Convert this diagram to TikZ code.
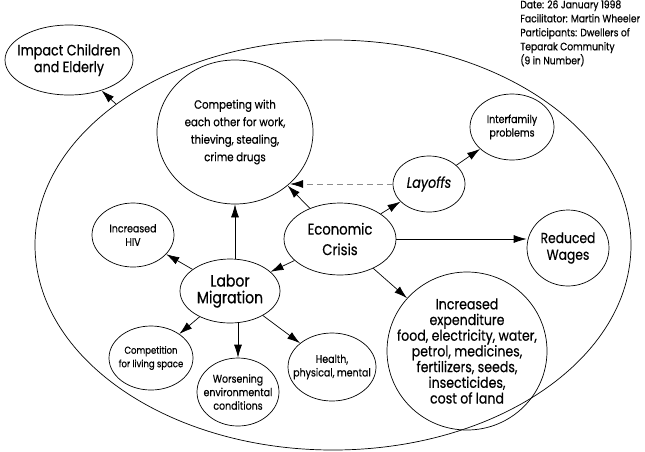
\documentclass[tikz,border=0pt]{standalone}
\usepackage{fontspec}
\setmainfont{Poppins}[FakeStretch=0.85,FakeBold=0.4]
\usepackage{xcolor}
\usepackage{tikz}
\usetikzlibrary{shapes.geometric}
\usetikzlibrary{arrows.meta}
\colorlet{maybeline}{black!45}
\tikzset{
  % node options
  bubble/.style={ellipse,draw,inner sep=-20pt,align=center},
  oval/.style 2 args={minimum width=#1,minimum height=#2},
  bigbubble/.style={bubble,font=\fontsize{15}{16.7}\selectfont},
  midbubble/.style={bubble,font=\fontsize{12}{17.5}\selectfont},
  smallbubble/.style={bubble,font=\fontsize{11.1}{13.5}\selectfont},
  note/.style={align=left,anchor=north west,inner sep=0pt,font=\fontsize{10.8}{14}\selectfont},
  % path options
  leads to/.style={-{Latex[length=13pt,width=8pt,color=black]}},
  may lead to/.style={leads to,dashed,dash pattern=on 6pt off 4pt,maybeline},
}
\newcommand{\Community}{\node[bubble,oval={596pt}{410pt}] (Community) at (333,245) {};}
\newcommand{\Impact}{\node[bigbubble,oval={128pt}{70pt}] (Impact) at (69,60) {Impact Children\\and Elderly};}
\newcommand{\Competing}{\node[midbubble,oval={156pt}{144pt}] (Competing) at (235,132) {Competing with\\each other for work,\\thieving, stealing,\\crime drugs};}
\newcommand{\Layoffs}{\node[bigbubble,oval={72pt}{56pt}] (Layoffs) at (429,184) {\itshape Layoffs};}
\newcommand{\Interfamily}{\node[smallbubble,oval={84pt}{66pt}] (Interfamily) at (512,127) {Interfamily\\problems};}
\newcommand{\ReducedWages}{\node[bigbubble,oval={82pt}{76pt},font=\fontsize{14.5}{16.7}\selectfont] (Reduced Wages) at (568,248) {Reduced\\Wages};}
\newcommand{\EconomicCrisis}{\node[bigbubble,oval={112pt}{72pt},font=\fontsize{15.5}{20.5}\selectfont] (Economic Crisis) at (340,239) {Economic\\Crisis};}
\newcommand{\LaborMigration}{\node[bigbubble,oval={100pt}{64pt},font=\fontsize{16.5}{16.7}\selectfont] (Labor Migration) at (230,291) {Labor\\Migration};}
\newcommand{\IncreasedHIV}{\node[smallbubble,oval={82pt}{64pt}] (HIV) at (133,235) {Increased\\HIV};}
\newcommand{\LivingSpace}{\node[smallbubble,oval={84pt}{64pt},font=\fontsize{10}{13.5}\selectfont] (Living Space) at (151,358) {Competition\\for living space};}
\newcommand{\Worsening}{\node[smallbubble,oval={82pt}{68pt}] (Worsening) at (238,392) {Worsening\\environmental\\conditions};}
\newcommand{\HealthMental}{\node[smallbubble,oval={88pt}{68pt}] (Health) at (332,367) {Health,\\physical, mental};}
\newcommand{\Expenditure}{\node[bubble,oval={160pt}{158pt},font=\fontsize{14.8}{15.7}\selectfont] (Expenditure) at (467,351) {Increased\\expenditure\\food, electricity, water,\\petrol, medicines,\\fertilizers, seeds,\\insecticides,\\cost of land};}

\begin{document}
\begin{tikzpicture}[
      x=1pt,y=-1pt,
      line width=0.7pt,
    ]
    \useasboundingbox (0,0) rectangle (645,451);
    \Community
    \Impact
    \Competing
    \Layoffs
    \Interfamily
    \ReducedWages
    \EconomicCrisis
    \LaborMigration
    \IncreasedHIV
    \LivingSpace
    \Worsening
    \HealthMental
    \Expenditure
    \node[note] (Note) at (520,0) {Date: 26 January 1998\\Facilitator: Martin Wheeler\\Participants: Dwellers of\\Teparak Community\\(9 in Number)};
    \draw[leads to] (Community.147.5) -- (Impact);
    \draw[leads to] (Economic Crisis) -- (Competing);
    \draw[leads to] (Economic Crisis) -- (Layoffs);
    \draw[may lead to] (Layoffs.west) -- (Competing.-43 |- Layoffs.west);
    \draw[leads to] (Layoffs) -- (Interfamily);
    \draw[leads to] (Economic Crisis.east) -- (Economic Crisis.east -| Reduced Wages.west);
    \draw[leads to] (Economic Crisis) -- (Expenditure);
    \draw[leads to] (Economic Crisis) -- (Labor Migration);
    \draw[leads to] (Competing.south |- Labor Migration.north) -- (Competing.south);
    \draw[leads to] (Labor Migration) -- (HIV);
    \draw[leads to] (Labor Migration) -- (Living Space);
    \draw[leads to] (Worsening.north |- Labor Migration.south) -- (Worsening.north);
    \draw[leads to] (Labor Migration) -- (Health);
  \end{tikzpicture}
\end{document}
